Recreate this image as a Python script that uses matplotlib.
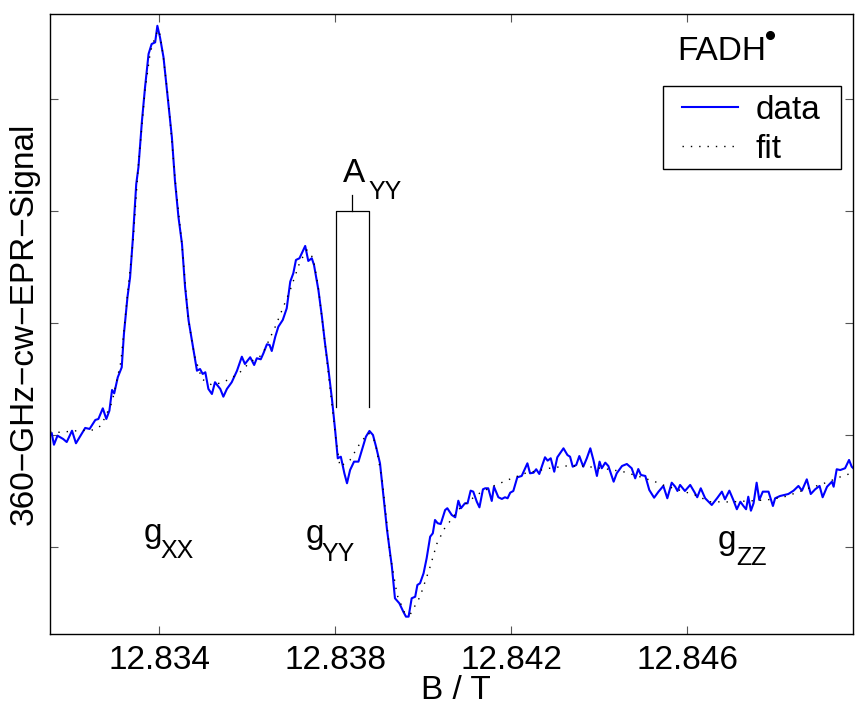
import matplotlib
matplotlib.use("Agg")
import matplotlib.pyplot as plt
from matplotlib.patches import Rectangle

plt.rcParams['font.family'] = ['Liberation Sans', 'DejaVu Sans']

# measured spectrum (B in T, signal in arb. units)
b_data = [12.83156, 12.83161, 12.83169, 12.83182, 12.83190, 12.83202, 12.83211, 12.83232,
          12.83242, 12.83255, 12.83262, 12.83272, 12.83280, 12.83287, 12.83293, 12.83298,
          12.83306, 12.83315, 12.83320, 12.83328, 12.83334, 12.83340, 12.83348, 12.83353,
          12.83361, 12.83368, 12.83376, 12.83383, 12.83391, 12.83396, 12.83402, 12.83410,
          12.83421, 12.83429, 12.83436, 12.83444, 12.83452, 12.83459, 12.83467, 12.83477,
          12.83486, 12.83493, 12.83499, 12.83505, 12.83512, 12.83520, 12.83527, 12.83539,
          12.83546, 12.83554, 12.83565, 12.83577, 12.83588, 12.83595, 12.83607, 12.83616,
          12.83622, 12.83631, 12.83637, 12.83645, 12.83651, 12.83656, 12.83664, 12.83671,
          12.83681, 12.83690, 12.83698, 12.83705, 12.83711, 12.83719, 12.83732, 12.83739,
          12.83747, 12.83752, 12.83762, 12.83770, 12.83777, 12.83785, 12.83793, 12.83800,
          12.83806, 12.83813, 12.83821, 12.83827, 12.83834, 12.83843, 12.83853, 12.83861,
          12.83870, 12.83878, 12.83886, 12.83893, 12.83902, 12.83910, 12.83918, 12.83929,
          12.83936, 12.83946, 12.83955, 12.83961, 12.83967, 12.83974, 12.83982, 12.83987,
          12.83993, 12.84001, 12.84008, 12.84016, 12.84022, 12.84027, 12.84033, 12.84040,
          12.84050, 12.84055, 12.84065, 12.84073, 12.84080, 12.84086, 12.84095, 12.84101,
          12.84108, 12.84114, 12.84122, 12.84128, 12.84136, 12.84141, 12.84148, 12.84156,
          12.84161, 12.84171, 12.84179, 12.84186, 12.84192, 12.84198, 12.84205, 12.84214,
          12.84224, 12.84237, 12.84243, 12.84251, 12.84257, 12.84264, 12.84277, 12.84283,
          12.84290, 12.84298, 12.84305, 12.84319, 12.84328, 12.84334, 12.84340, 12.84348,
          12.84355, 12.84364, 12.84372, 12.84380, 12.84387, 12.84395, 12.84401, 12.84406,
          12.84414, 12.84421, 12.84433, 12.84440, 12.84452, 12.84463, 12.84474, 12.84482,
          12.84489, 12.84495, 12.84505, 12.84514, 12.84525, 12.84535, 12.84546, 12.84555,
          12.84565, 12.84573, 12.84578, 12.84584, 12.84595, 12.84607, 12.84616, 12.84623,
          12.84631, 12.84641, 12.84656, 12.84668, 12.84679, 12.84686, 12.84696, 12.84705,
          12.84713, 12.84721, 12.84728, 12.84734, 12.84739, 12.84745, 12.84751, 12.84758,
          12.84764, 12.84772, 12.84785, 12.84795, 12.84800, 12.84811, 12.84830, 12.84842,
          12.84853, 12.84861, 12.84872, 12.84881, 12.84891, 12.84901, 12.84908, 12.84918,
          12.84929, 12.84933, 12.84940, 12.84948, 12.84959, 12.84968, 12.84974, 12.84982]
s_data = [0.015, -0.087, -0.006, -0.036, -0.063, 0.038, -0.074, 0.063,
          0.054, 0.134, 0.143, 0.238, 0.143, 0.217, 0.402, 0.372,
          0.515, 0.604, 0.902, 1.229, 1.408, 1.735, 2.241, 2.390,
          2.806, 3.104, 3.402, 3.491, 3.506, 3.654, 3.551, 3.372,
          2.955, 2.658, 2.271, 1.944, 1.705, 1.319, 1.021, 0.783,
          0.574, 0.589, 0.545, 0.560, 0.411, 0.366, 0.471, 0.411,
          0.342, 0.411, 0.471, 0.574, 0.699, 0.634, 0.694, 0.625,
          0.685, 0.676, 0.729, 0.810, 0.804, 0.750, 0.878, 0.967,
          1.027, 1.131, 1.369, 1.444, 1.563, 1.578, 1.688, 1.554,
          1.578, 1.518, 1.295, 1.056, 0.819, 0.580, 0.313, 0.045,
          -0.208, -0.194, -0.342, -0.431, -0.313, -0.238, -0.238, -0.134,
          -0.015, 0.036, 0.000, -0.104, -0.253, -0.551, -0.848, -1.176,
          -1.458, -1.503, -1.578, -1.622, -1.622, -1.458, -1.444, -1.339,
          -1.324, -1.235, -1.101, -0.908, -0.878, -0.759, -0.788, -0.795,
          -0.670, -0.654, -0.714, -0.735, -0.587, -0.654, -0.610, -0.610,
          -0.497, -0.506, -0.596, -0.646, -0.485, -0.476, -0.476, -0.589,
          -0.462, -0.556, -0.571, -0.556, -0.565, -0.515, -0.500, -0.378,
          -0.366, -0.253, -0.342, -0.337, -0.306, -0.348, -0.199, -0.229,
          -0.208, -0.328, -0.199, -0.119, -0.179, -0.194, -0.283, -0.268,
          -0.188, -0.283, -0.208, -0.119, -0.223, -0.366, -0.238, -0.297,
          -0.247, -0.277, -0.417, -0.342, -0.277, -0.259, -0.297, -0.387,
          -0.304, -0.357, -0.366, -0.491, -0.560, -0.506, -0.455, -0.565,
          -0.426, -0.462, -0.500, -0.446, -0.500, -0.446, -0.506, -0.556,
          -0.476, -0.565, -0.625, -0.565, -0.506, -0.574, -0.497, -0.580,
          -0.663, -0.596, -0.634, -0.663, -0.551, -0.676, -0.610, -0.426,
          -0.580, -0.506, -0.506, -0.634, -0.565, -0.545, -0.527, -0.497,
          -0.455, -0.497, -0.396, -0.527, -0.485, -0.455, -0.556, -0.462,
          -0.417, -0.462, -0.306, -0.313, -0.297, -0.223, -0.283, -0.313]

# simulated fit
b_fit = [12.83152, 12.83175, 12.83213, 12.83251, 12.83268, 12.83293, 12.83313, 12.83327,
         12.83341, 12.83352, 12.83368, 12.83380, 12.83393, 12.83400, 12.83409, 12.83421,
         12.83436, 12.83452, 12.83466, 12.83480, 12.83497, 12.83520, 12.83546, 12.83580,
         12.83607, 12.83634, 12.83664, 12.83698, 12.83720, 12.83736, 12.83750, 12.83761,
         12.83777, 12.83791, 12.83802, 12.83811, 12.83834, 12.83857, 12.83876, 12.83891,
         12.83907, 12.83925, 12.83941, 12.83957, 12.83970, 12.83993, 12.84016, 12.84031,
         12.84048, 12.84070, 12.84084, 12.84113, 12.84128, 12.84160, 12.84196, 12.84232,
         12.84287, 12.84325, 12.84364, 12.84421, 12.84455, 12.84492, 12.84527, 12.84545,
         12.84618, 12.84652, 12.84698, 12.84781, 12.84818, 12.84849, 12.84876, 12.84906,
         12.84940, 12.84959, 12.84977]
s_fit = [0.027, 0.024, 0.038, 0.045, 0.083, 0.292, 0.652, 1.205,
         1.741, 2.366, 3.080, 3.420, 3.580, 3.616, 3.393, 2.991,
         2.295, 1.696, 1.045, 0.714, 0.500, 0.446, 0.471, 0.545,
         0.652, 0.714, 0.967, 1.295, 1.545, 1.652, 1.580, 1.339,
         0.821, 0.330, -0.045, -0.283, -0.223, -0.071, 0.018, -0.060,
         -0.402, -1.071, -1.429, -1.580, -1.607, -1.444, -1.176, -0.973,
         -0.839, -0.723, -0.652, -0.563, -0.521, -0.455, -0.396, -0.342,
         -0.297, -0.277, -0.277, -0.306, -0.328, -0.372, -0.417, -0.446,
         -0.536, -0.596, -0.598, -0.580, -0.556, -0.515, -0.476, -0.440,
         -0.387, -0.357, -0.342]

x_ticks = [12.834, 12.838, 12.842, 12.846]
x_ticklabels = ['12.834', '12.838', '12.842', '12.846']
y_ticks = [-1, 0, 1, 2, 3]

# g-tensor labels: (main letter, subscript, x, baseline, sub x, sub baseline)
g_labels = [('g', 'XX', 12.83364, -0.955, 12.83402, -1.098),
            ('g', 'YY', 12.83734, -0.964, 12.83770, -1.125),
            ('g', 'ZZ', 12.84670, -1.018, 12.84711, -1.161),
            ('A', 'YY', 12.83818, 2.259, 12.83875, 2.107)]

fig = plt.figure(figsize=(8.55, 7.06), dpi=100)
ax = fig.add_axes([50/855, 1-634/706, 803/855, 620/706])

ax.plot(b_data, s_data, color='#0000ff', lw=1.5, label='data')
ax.plot(b_fit, s_fit, color='black', lw=1.0, linestyle=(0, (1, 5)), label='fit')

ax.set_xlim(12.83152, 12.84977)
ax.set_ylim(-1.777, 3.759)
ax.set_xticks(x_ticks)
ax.set_xticklabels(x_ticklabels)
ax.set_yticks(y_ticks)
ax.set_yticklabels([])
ax.tick_params(direction='in', length=6, width=0.8, top=True, right=True,
               labelsize=24, pad=8, color='#555555')
for sp in ax.spines.values():
    sp.set_linewidth(1.0)

ax.set_xlabel('B / T', fontsize=24, va='baseline')
ax.xaxis.set_label_coords(0.506, -0.1045)
ax.set_ylabel('360\u2212GHz\u2212cw\u2212EPR\u2212Signal', fontsize=24)
ax.yaxis.set_label_coords(-0.0125, 0.5)

for main, sub, x0, y0, x1, y1 in g_labels:
    ax.text(x0, y0, main, fontsize=24, ha='left', va='baseline')
    ax.text(x1, y1, sub, fontsize=18, ha='left', va='baseline')

# hyperfine splitting bracket
ay_l, ay_r = 12.83802, 12.83876
ax.plot([ay_l, ay_l, ay_r, ay_r], [0.25, 2.0, 2.0, 0.25], color='black', lw=0.9)
ax.plot([(ay_l + ay_r) / 2] * 2, [2.0, 2.14], color='black', lw=0.9)

ax.text(12.84577, 3.348, 'FADH', fontsize=24, ha='left', va='baseline')
ax.plot([12.84789], [3.571], 'o', color='black', ms=5.5)

# legend: box drawn separately so its padding matches the original
ax.add_patch(Rectangle((0.7634, 0.75), 0.2216, 0.1339, transform=ax.transAxes,
                       facecolor='white', edgecolor='black', lw=1.0, zorder=4))
leg = ax.legend(loc='upper left', bbox_to_anchor=(0.787, 0.8693), fontsize=24,
                frameon=False, handlelength=1.68, handletextpad=0.54,
                borderpad=0, labelspacing=0.24, borderaxespad=0)
leg.set_zorder(5)

fig.savefig('out.png', dpi=100)
